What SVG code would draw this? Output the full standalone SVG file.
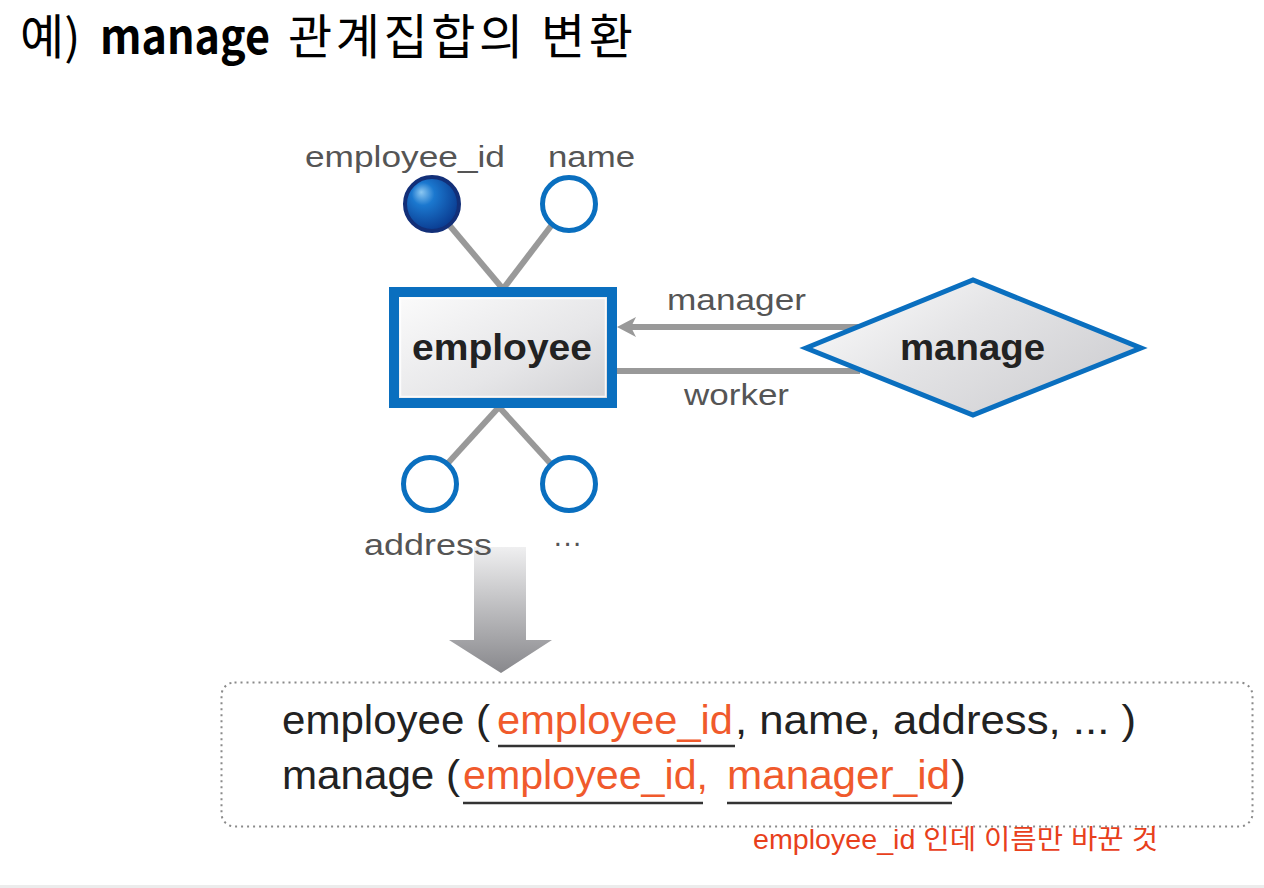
<svg xmlns="http://www.w3.org/2000/svg" width="1264" height="888" viewBox="0 0 1264 888">
<style>
.lbl{font-family:"Liberation Sans",Arial,sans-serif;font-size:29px;fill:#555}
.bold{font-family:"Liberation Sans",Arial,sans-serif;font-size:36px;font-weight:bold;fill:#222}
.rel{font-family:"Liberation Sans",Arial,sans-serif;font-size:40px;fill:#222}
.red{fill:#f05a2c}
.conn{stroke:#999;stroke-width:6;fill:none}
.attr{fill:#fff;stroke:#0a6fbf;stroke-width:5}
.ul{stroke:#333;stroke-width:2.5}
.ttl{font-family:"Noto Sans CJK KR",sans-serif;font-size:48px;fill:#000}
</style>
<defs>
<radialGradient id="keyG" cx="0.4" cy="0.38" r="0.6" fx="0.3" fy="0.28">
<stop offset="0" stop-color="#8cc8f2"/>
<stop offset="0.35" stop-color="#1b78cf"/>
<stop offset="1" stop-color="#0b3f94"/>
</radialGradient>
<linearGradient id="boxG" x1="0" y1="0" x2="1" y2="1">
<stop offset="0" stop-color="#fcfcfc"/>
<stop offset="0.6" stop-color="#e6e6e8"/>
<stop offset="1" stop-color="#cfcfd2"/>
</linearGradient>
<linearGradient id="diaG" x1="0" y1="0" x2="1" y2="0.6">
<stop offset="0" stop-color="#ffffff"/>
<stop offset="0.5" stop-color="#e4e4e6"/>
<stop offset="1" stop-color="#d0d0d3"/>
</linearGradient>
<linearGradient id="arrG" x1="0" y1="0" x2="0" y2="1">
<stop offset="0" stop-color="#efeff0"/>
<stop offset="1" stop-color="#88888c"/>
</linearGradient>
</defs>
<rect width="1264" height="888" fill="#fff"/>
<rect x="0" y="885" width="1264" height="3" fill="#ececec"/>

<g id="title">
<text class="ttl" x="20" y="54">예)</text>
<text class="ttl" x="100" y="54" font-weight="bold" textLength="170" lengthAdjust="spacingAndGlyphs">manage</text>
<text class="ttl" x="288" y="54" textLength="345" lengthAdjust="spacing">관계집합의 변환</text>
</g>

<g id="transform-arrow">
<polygon points="474,547 526,547 526,640 552,640 501,673 449,640 474,640" fill="url(#arrG)"/>
</g>

<g id="connectors">
<line class="conn" x1="450" y1="226" x2="503" y2="289"/>
<line class="conn" x1="551" y1="226" x2="503" y2="289"/>
<line class="conn" x1="499" y1="407" x2="448" y2="463"/>
<line class="conn" x1="499" y1="407" x2="550" y2="463"/>
<line class="conn" x1="858" y1="327" x2="630" y2="327"/>
<path d="M617,327 L636,317 L631,327 L636,337 Z" fill="#999"/>
<line class="conn" x1="860" y1="371" x2="617" y2="371"/>
<text class="lbl" x="667" y="310" textLength="139" lengthAdjust="spacingAndGlyphs">manager</text>
<text class="lbl" x="684" y="405" textLength="105" lengthAdjust="spacingAndGlyphs">worker</text>
</g>

<g id="attr-employee_id">
<circle cx="432" cy="204" r="27" fill="url(#keyG)" stroke="#122f78" stroke-width="4"/>
<text class="lbl" x="305" y="167" textLength="200" lengthAdjust="spacingAndGlyphs">employee_id</text>
</g>
<g id="attr-name">
<circle class="attr" cx="569" cy="204" r="26.5"/>
<text class="lbl" x="548" y="167" textLength="87" lengthAdjust="spacingAndGlyphs">name</text>
</g>
<g id="attr-address">
<circle class="attr" cx="430" cy="484" r="26.5"/>
<text class="lbl" x="364" y="555" textLength="128" lengthAdjust="spacingAndGlyphs">address</text>
</g>
<g id="attr-more">
<circle class="attr" cx="569" cy="484" r="26.5"/>
<text class="lbl" x="553" y="552" textLength="29" lengthAdjust="spacingAndGlyphs">···</text>
</g>

<g id="employee">
<rect x="394" y="292" width="218" height="111" fill="url(#boxG)" stroke="#0a6fbf" stroke-width="10"/>
<rect x="400.5" y="298.5" width="205" height="98" fill="none" stroke="#ffffff" stroke-width="1.5" opacity="0.8"/>
<text class="bold" x="412" y="360" textLength="180" lengthAdjust="spacingAndGlyphs">employee</text>
</g>

<g id="manage">
<polygon points="806,348 973,280 1141,348 973,415" fill="url(#diaG)" stroke="#0a6fbf" stroke-width="5" stroke-linejoin="miter"/>
<text class="bold" x="900" y="360" textLength="145" lengthAdjust="spacingAndGlyphs">manage</text>
</g>

<g id="relations">
<rect x="221.5" y="682.5" width="1031" height="144" rx="13" fill="none" stroke="#8a8a8a" stroke-width="2" stroke-dasharray="2 4"/>
<text class="rel" x="282" y="734" textLength="208" lengthAdjust="spacingAndGlyphs">employee (</text>
<text class="rel red" x="497" y="734" textLength="236" lengthAdjust="spacingAndGlyphs">employee_id</text>
<text class="rel" x="735" y="734" textLength="401" lengthAdjust="spacingAndGlyphs">, name, address, ... )</text>
<line class="ul" x1="498" y1="746" x2="735" y2="746"/>
<text class="rel" x="282" y="789" textLength="178" lengthAdjust="spacingAndGlyphs">manage (</text>
<text class="rel red" x="463" y="789" textLength="245" lengthAdjust="spacingAndGlyphs">employee_id,</text>
<text class="rel red" x="727" y="789" textLength="223" lengthAdjust="spacingAndGlyphs">manager_id</text>
<text class="rel" x="951" y="789" textLength="15" lengthAdjust="spacingAndGlyphs">)</text>
<line class="ul" x1="463" y1="803" x2="703" y2="803"/>
<line class="ul" x1="727" y1="803" x2="952" y2="803"/>
</g>

<g id="note">
<text x="753" y="849" font-family="'Liberation Sans','Noto Sans CJK KR',sans-serif" font-size="27" fill="#e8401c" textLength="405" lengthAdjust="spacingAndGlyphs">employee_id 인데 이름만 바꾼 것</text>
</g>
</svg>
